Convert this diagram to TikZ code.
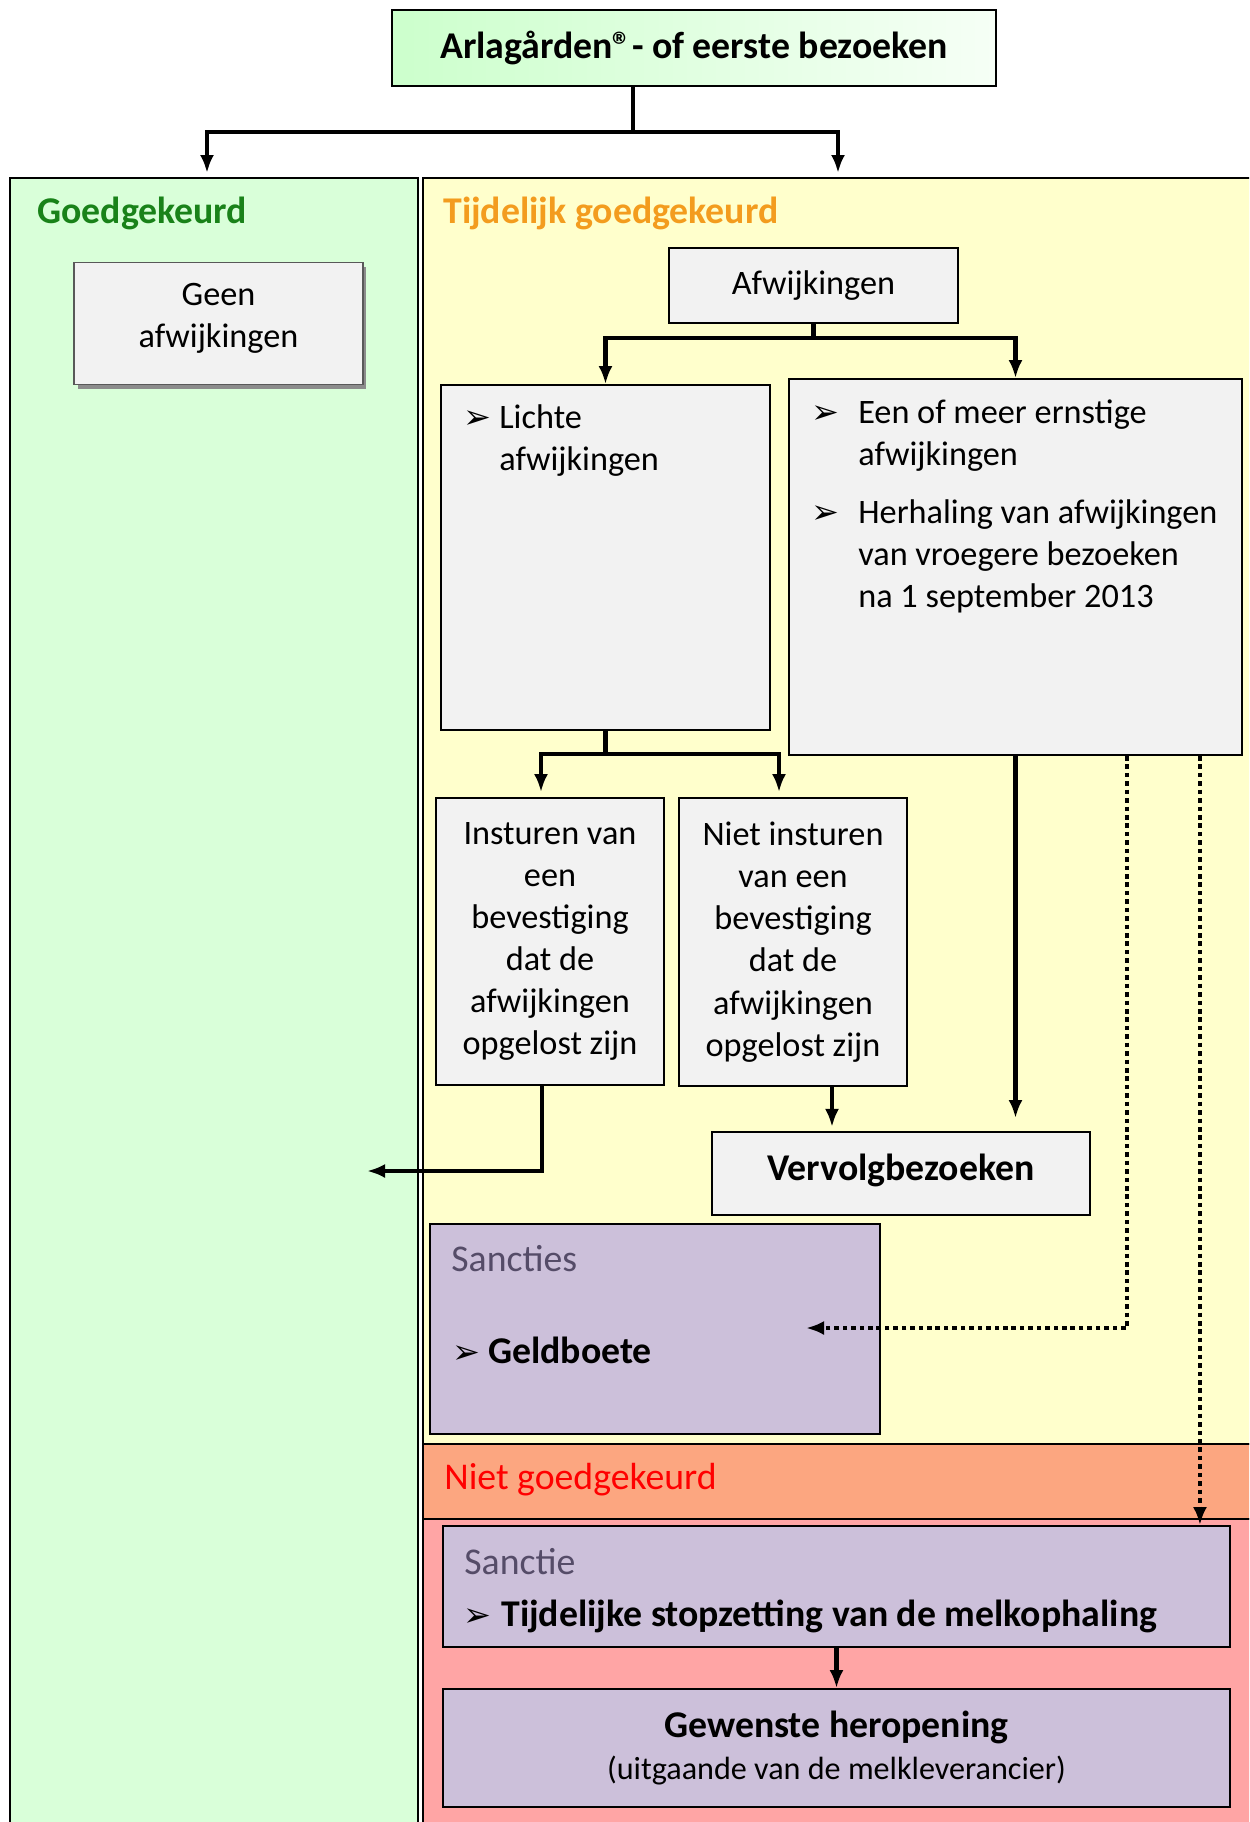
\documentclass[tikz,border=0pt]{standalone}
\usepackage{fontspec}
\setmainfont{Carlito}
\newfontfamily\symfont{DejaVu Sans}
\usetikzlibrary{arrows.meta,shadows}

\definecolor{groen}{RGB}{217,255,217}
\definecolor{geel}{RGB}{255,255,204}
\definecolor{oranje}{RGB}{252,166,128}
\definecolor{roze}{RGB}{255,165,165}
\definecolor{lila}{RGB}{204,192,218}
\definecolor{grijs}{RGB}{242,242,242}
\definecolor{kopgroen}{RGB}{25,130,25}
\definecolor{koporanje}{RGB}{243,156,30}
\definecolor{koplila}{RGB}{85,76,104}

\newcommand\tekst{\fontsize{19.5}{24}\selectfont}
\newcommand\kop{\fontsize{21.5}{25}\selectfont}
\newcommand\pijl{{\symfont\fontsize{19}{19}\selectfont ➢}}

\tikzset{
  vak/.style={draw=black, line width=1.1pt, fill=grijs, inner sep=0pt, font=\tekst, align=center},
  kopje/.style={anchor=west, inner sep=0pt, font=\kop},
  lijn/.style={line width=2.7pt},
  stip/.style={line width=2.6pt, dash pattern=on 2.6pt off 2.2pt},
}

\begin{document}
\begin{tikzpicture}[x=0.02cm, y=-0.02cm, >={Latex[length=0.36cm,width=0.28cm]}]
\useasboundingbox (0,0) rectangle (1249,1822);
\clip (0,0) rectangle (1249,1822);

% vlakken
\draw[fill=groen, line width=0.8pt] (10,178) rectangle (418,1840);
\draw[fill=geel, line width=0.8pt] (423,178) rectangle (1262,1444);
\draw[fill=oranje, line width=0.8pt] (423,1444) rectangle (1262,1519);
\draw[fill=roze, line width=0.8pt] (423,1519) rectangle (1262,1840);

% koppen
\node[kopje, font=\kop\bfseries, text=kopgroen] (goedkop) at (37,213) {Goedgekeurd};
\node[kopje, font=\kop\bfseries, text=koporanje] (tijdkop) at (443,213) {Tijdelijk goedgekeurd};
\node[kopje, text=red] (nietkop) at (444,1480) {Niet goedgekeurd};

% vakken
\node[vak, left color={rgb,255:red,204;green,255;blue,204}, right color={rgb,255:red,246;green,255;blue,246},
  font=\kop\bfseries, minimum width=12.08cm, minimum height=1.52cm] (start) at (694,48) {Arlagården®- of eerste bezoeken};
\node[vak, draw=black!65, drop shadow={shadow xshift=0.07cm, shadow yshift=-0.09cm, fill=black!45, opacity=1},
  minimum width=5.78cm, minimum height=2.44cm] (geen) at (218.5,323.5) {Geen\\afwijkingen\\[-0.53cm]};
\node[vak, minimum width=5.78cm, minimum height=1.5cm] (afw) at (813.5,285.5) {Afwijkingen};
\node[vak, minimum width=6.58cm, minimum height=6.9cm] (licht) at (605.5,557.5) {};
\node[vak, minimum width=9.06cm, minimum height=7.52cm] (ernst) at (1015.5,567) {};
\node[vak, minimum width=4.56cm, minimum height=5.74cm] (ins) at (550,941.5)
  {Insturen van\\een\\bevestiging\\dat de\\afwijkingen\\opgelost zijn};
\node[vak, minimum width=4.56cm, minimum height=5.76cm] (nins) at (793,942)
  {Niet insturen\\van een\\bevestiging\\dat de\\afwijkingen\\opgelost zijn};
\node[vak, font=\kop\bfseries, minimum width=7.56cm, minimum height=1.66cm] (vervolg) at (901,1173.5) {\raisebox{0.24cm}{Vervolgbezoeken}};
\node[vak, fill=lila, minimum width=9cm, minimum height=4.2cm] (sancties) at (655,1329) {};
\node[vak, fill=lila, minimum width=15.74cm, minimum height=2.42cm] (sanctie) at (836.5,1586.5) {};
\node[vak, fill=lila, minimum width=15.74cm, minimum height=2.36cm] (gewenst) at (836.5,1748)
  {{\kop\bfseries Gewenste heropening}\\{\fontsize{18.3}{22}\selectfont (uitgaande van de melkleverancier)}};

% teksten in de vakken
\node[anchor=north west, inner sep=0pt, font=\tekst, align=left] (lichttekst) at (463,404)
  {\makebox[0.72cm][l]{\pijl}Lichte\\\hspace*{0.72cm}afwijkingen};
\node[anchor=north west, inner sep=0pt, font=\tekst, align=left] (ernsttekst) at (811,399)
  {\makebox[0.94cm][l]{\pijl}Een of meer ernstige\\\hspace*{0.94cm}afwijkingen\\[0.32cm]
   \makebox[0.94cm][l]{\pijl}Herhaling van afwijkingen\\\hspace*{0.94cm}van vroegere bezoeken\\
   \hspace*{0.94cm}na 1 september 2013};
\node[kopje, text=koplila] (sanctieskop) at (451,1259) {Sancties};
\node[kopje, font=\kop\bfseries] (geld) at (452,1350) {\makebox[0.72cm][l]{\pijl}Geldboete};
\node[kopje, text=koplila] (sanctiekop) at (464,1562) {Sanctie};
\node[kopje, font=\kop\bfseries] (stop) at (463,1616) {\makebox[0.76cm][l]{\pijl}Tijdelijke stopzetting van de melkophaling};

% verbindingen
\coordinate (splits) at (633,132);
\coordinate (naargoed) at (207,173);
\coordinate (naartijd) at (838,173);
\coordinate (terug) at (367,1171);
\coordinate (boete) at (806,1328);
\draw[lijn] (start.south -| splits) -- (splits);
\draw[lijn,->] (splits) -| (naargoed);
\draw[lijn,->] (splits) -| (naartijd);
\draw[lijn,->] (afw.south) -- ++(0,14) -| (licht.north);
\draw[lijn,->] (afw.south) -- ++(0,14) -| (ernst.north);
\draw[lijn,->] (licht.south) -- ++(0,23) -| ([xshift=-0.18cm,yshift=0.1cm]ins.north);
\draw[lijn,->] (licht.south) -- ++(0,23) -| ([xshift=-0.28cm,yshift=0.1cm]nins.north);
\draw[lijn,->] ([xshift=-0.16cm]ins.south) |- (terug);
\draw[lijn,->] ([xshift=0.78cm]nins.south) -- ++(0,40);
\draw[lijn,->,shorten >=0.26cm] (ernst.south) -- (ernst.south |- vervolg.north);
\draw[stip,->] ([xshift=2.23cm]ernst.south) |- (boete);
\draw[stip,->] ([xshift=3.69cm]ernst.south) -- ([xshift=3.69cm]ernst.south |- sanctie.north);
\draw[lijn,->] (sanctie.south) -- (gewenst.north);
\end{tikzpicture}
\end{document}
